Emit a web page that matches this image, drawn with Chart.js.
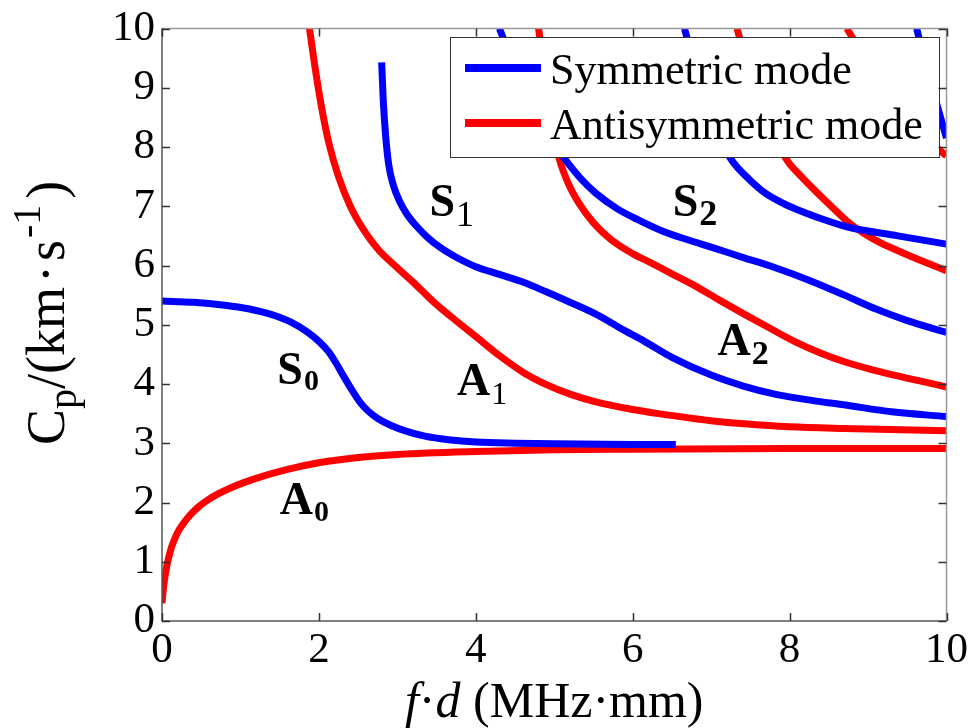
<!DOCTYPE html>
<html>
<head>
<meta charset="utf-8">
<script src="https://cdn.jsdelivr.net/npm/chart.js@4.4.1/dist/chart.umd.min.js"></script>
<style>
  html, body { margin: 0; padding: 0; background: #fff; }
  #wrap { width: 976px; height: 728px; }
</style>
</head>
<body>
<div id="wrap"><canvas id="dispersion"></canvas></div>
<script>
// phase velocity dispersion curves: [f·d (MHz·mm), Cp (km/s)]
const S0 = [[0, 5.4], [0.4, 5.38], [0.8, 5.33], [1.1, 5.27], [1.4, 5.17], [1.65, 5.04], [1.85, 4.88],
  [2.0, 4.72], [2.12, 4.55], [2.22, 4.35], [2.32, 4.12], [2.42, 3.9], [2.52, 3.7], [2.63, 3.54],
  [2.76, 3.41], [2.92, 3.3], [3.1, 3.21], [3.35, 3.12], [3.65, 3.06], [4.0, 3.02], [4.5, 3.0],
  [5.0, 2.99], [6.0, 2.98], [6.55, 2.98]];
const S1 = [[2.8, 9.43], [2.82, 8.8], [2.85, 8.2], [2.89, 7.7], [2.95, 7.35], [3.03, 7.08], [3.12, 6.87],
  [3.24, 6.67], [3.38, 6.48], [3.55, 6.3], [3.75, 6.14], [4.0, 5.98], [4.3, 5.85], [4.6, 5.72],
  [4.89, 5.56], [5.2, 5.38], [5.53, 5.18], [5.9, 4.9], [6.15, 4.72], [6.5, 4.45], [7.0, 4.15],
  [7.4, 3.97], [7.84, 3.82], [8.3, 3.72], [8.69, 3.65], [9.3, 3.53], [10, 3.45]];
const S2 = [[4.3, 10], [4.55, 9.2], [4.8, 8.5], [5.0, 8.05], [5.18, 7.72], [5.35, 7.45], [5.53, 7.22],
  [5.8, 6.96], [6.07, 6.77], [6.4, 6.57], [6.71, 6.43], [7.0, 6.31], [7.42, 6.13], [7.8, 5.97],
  [8.27, 5.74], [8.7, 5.5], [9.11, 5.26], [9.5, 5.07], [10, 4.87]];
const S3 = [[6.66, 10], [6.85, 9.1], [7.05, 8.3], [7.26, 7.78], [7.48, 7.46], [7.69, 7.22], [7.9, 7.06],
  [8.1, 6.94], [8.32, 6.83], [8.74, 6.65], [9.38, 6.5], [10, 6.36]];
const S4 = [[9.62, 10], [9.75, 9.3], [9.87, 8.75], [10, 8.15]];

const A0 = [[0, 0.3], [0.01, 0.45], [0.03, 0.68], [0.06, 0.92], [0.1, 1.15], [0.15, 1.35], [0.21, 1.52],
  [0.28, 1.66], [0.36, 1.79], [0.46, 1.92], [0.58, 2.04], [0.72, 2.15], [0.88, 2.25], [1.05, 2.34],
  [1.3, 2.45], [1.6, 2.56], [2.0, 2.67], [2.5, 2.76], [3.0, 2.81], [4.0, 2.86], [5.0, 2.89],
  [6.0, 2.9], [8.0, 2.91], [10, 2.91]];
const A1 = [[1.88, 10], [1.95, 9.35], [2.03, 8.7], [2.13, 8.05], [2.25, 7.5], [2.4, 7.0], [2.57, 6.6],
  [2.75, 6.28], [2.95, 6.02], [3.2, 5.72], [3.45, 5.4], [3.7, 5.12], [4.0, 4.8], [4.3, 4.48],
  [4.6, 4.2], [4.9, 3.99], [5.2, 3.83], [5.53, 3.7], [6.0, 3.57], [6.33, 3.5], [7.0, 3.38],
  [7.42, 3.33], [8.0, 3.28], [8.69, 3.25], [10, 3.21]];
const A2 = [[4.8, 10], [4.88, 9.2], [4.96, 8.45], [5.06, 7.82], [5.18, 7.38], [5.31, 7.06], [5.5, 6.72],
  [5.73, 6.43], [6.0, 6.2], [6.24, 6.04], [6.5, 5.86], [6.79, 5.66], [7.1, 5.42], [7.42, 5.18],
  [7.75, 4.94], [8.06, 4.72], [8.4, 4.52], [8.69, 4.38], [9.0, 4.26], [9.33, 4.15], [9.7, 4.04], [10, 3.95]];
const A3 = [[7.33, 10], [7.5, 9.2], [7.7, 8.5], [7.85, 8.05], [7.98, 7.75], [8.15, 7.5], [8.32, 7.27],
  [8.53, 7.0], [8.74, 6.74], [8.95, 6.54], [9.16, 6.38], [9.38, 6.25], [9.59, 6.13], [10, 5.91]];
const A4 = [[8.73, 10], [9.1, 9.2], [9.5, 8.5], [9.87, 8.0], [10, 7.85]];

const symmetric = [S0, S1, S2, S3, S4];
const antisymmetric = [A0, A1, A2, A3, A4];
const legendNames = ['Symmetric mode', 'Antisymmetric mode'];

const BLUE = '#0000ff';
const RED = '#ff0000';
const SERIF = '"Liberation Serif", "Times New Roman", serif';

// mode names written next to the curves (anchor = left/baseline, in data units)
const modeTags = [
  { main: 'S', sub: '0', x: 1.47, y: 4.0, subSize: 30, subBold: true, drop: 6 },
  { main: 'A', sub: '0', x: 1.5, y: 1.81, subSize: 30, subBold: true, drop: 7 },
  { main: 'S', sub: '1', x: 3.41, y: 6.83, subSize: 36, subBold: false, drop: 10 },
  { main: 'A', sub: '1', x: 3.76, y: 3.82, subSize: 32, subBold: false, drop: 9 },
  { main: 'S', sub: '2', x: 6.51, y: 6.83, subSize: 36, subBold: true, drop: 9 },
  { main: 'A', sub: '2', x: 7.08, y: 4.49, subSize: 34, subBold: true, drop: 9 },
];

const toXY = (pts) => pts.map(([x, y]) => ({ x, y }));
const curve = (pts, color) => ({
  data: toXY(pts),
  borderColor: color,
  borderWidth: 7,
  pointRadius: 0,
  showLine: true,
  fill: false,
  cubicInterpolationMode: 'monotone',
});

const datasets = [
  ...symmetric.map((pts) => curve(pts, BLUE)),
  ...antisymmetric.map((pts) => curve(pts, RED)),
];

const extras = {
  id: 'extras',
  afterDatasetsDraw(chart) {
    const { ctx, scales: { x, y } } = chart;
    ctx.save();
    ctx.fillStyle = '#000';
    ctx.textBaseline = 'alphabetic';
    ctx.textAlign = 'left';

    // mode tags
    modeTags.forEach((t) => {
      const px = x.getPixelForValue(t.x);
      const py = y.getPixelForValue(t.y);
      ctx.font = `bold 46px ${SERIF}`;
      ctx.fillText(t.main, px, py);
      const w = ctx.measureText(t.main).width;
      ctx.font = `${t.subBold ? 'bold ' : ''}${t.subSize}px ${SERIF}`;
      ctx.fillText(t.sub, px + w + 1, py + t.drop);
    });

    // legend box
    const lx = 450, ly = 37, lw = 489, lh = 120;
    ctx.fillStyle = '#fff';
    ctx.fillRect(lx, ly, lw, lh);
    ctx.strokeStyle = '#333';
    ctx.lineWidth = 1;
    ctx.strokeRect(lx + 0.5, ly + 0.5, lw, lh);
    [BLUE, RED].forEach((c, i) => {
      const rowY = 68 + i * 55;
      ctx.strokeStyle = c;
      ctx.lineWidth = 8;
      ctx.beginPath();
      ctx.moveTo(465, rowY);
      ctx.lineTo(541, rowY);
      ctx.stroke();
      ctx.fillStyle = '#000';
      ctx.font = `44px ${SERIF}`;
      ctx.fillText(legendNames[i], 550, rowY + 16);
    });

    // axes frame with inward ticks on all four sides
    const a = chart.chartArea;
    ctx.lineWidth = 1.5;
    ctx.strokeStyle = '#999';
    ctx.beginPath();
    ctx.moveTo(a.left, a.top);
    ctx.lineTo(a.right, a.top);
    ctx.lineTo(a.right, a.bottom);
    ctx.stroke();
    ctx.strokeStyle = '#555';
    ctx.beginPath();
    ctx.moveTo(a.left, a.top);
    ctx.lineTo(a.left, a.bottom);
    ctx.lineTo(a.right, a.bottom);
    ctx.stroke();

    ctx.strokeStyle = '#333';
    ctx.lineWidth = 1.5;
    const tl = 8;
    y.ticks.forEach((tk) => {
      const py = Math.round(y.getPixelForValue(tk.value)) + 0.5;
      ctx.beginPath();
      ctx.moveTo(a.left, py); ctx.lineTo(a.left + tl, py);
      ctx.moveTo(a.right, py); ctx.lineTo(a.right - tl, py);
      ctx.stroke();
    });
    x.ticks.forEach((tk) => {
      const px = Math.round(x.getPixelForValue(tk.value)) + 0.5;
      ctx.beginPath();
      ctx.moveTo(px, a.bottom); ctx.lineTo(px, a.bottom - tl);
      ctx.moveTo(px, a.top); ctx.lineTo(px, a.top + tl);
      ctx.stroke();
    });

    // x axis title: f·d (MHz·mm)
    ctx.fillStyle = '#000';
    const xParts = [
      { s: 'f', it: true }, { s: '·', it: false }, { s: 'd', it: true }, { s: ' (MHz·mm)', it: false },
    ];
    let total = 0;
    xParts.forEach((p) => {
      ctx.font = `${p.it ? 'italic ' : ''}50px ${SERIF}`;
      p.w = ctx.measureText(p.s).width;
      total += p.w;
    });
    let cx = (a.left + a.right) / 2 - total / 2;
    xParts.forEach((p) => {
      ctx.font = `${p.it ? 'italic ' : ''}50px ${SERIF}`;
      ctx.fillText(p.s, cx, 717);
      cx += p.w;
    });

    // y axis title: Cp/(km·s^-1), reading upward
    ctx.translate(64, 445);
    ctx.rotate(-Math.PI / 2);
    const yParts = [
      { s: 'C', size: 54, dy: 0, gap: 0 }, { s: 'p', size: 40, dy: 12, gap: 0 },
      { s: '/(km', size: 54, dy: 0, gap: 4 }, { s: '·', size: 54, dy: 0, gap: 4 },
      { s: 's', size: 54, dy: 0, gap: 2 }, { s: '-1', size: 40, dy: -24, gap: 6 },
      { s: ')', size: 54, dy: 0, gap: 0 },
    ];
    let cy = 0;
    yParts.forEach((p) => {
      ctx.font = `${p.size}px ${SERIF}`;
      ctx.fillText(p.s, cy, p.dy);
      cy += ctx.measureText(p.s).width + p.gap;
    });
    ctx.restore();
  },
};

new Chart(document.getElementById('dispersion'), {
  type: 'scatter',
  data: { datasets },
  options: {
    responsive: true,
    maintainAspectRatio: false,
    animation: false,
    layout: { padding: { top: 24, right: 27, left: 0, bottom: 0 } },
    plugins: { legend: { display: false }, tooltip: { enabled: false } },
    scales: {
      x: {
        type: 'linear',
        min: 0,
        max: 10,
        afterFit(scale) { scale.height = 107; },
        grid: { display: false, drawTicks: false },
        border: { display: false },
        ticks: { stepSize: 2, padding: 8, color: '#000', font: { family: SERIF, size: 43, lineHeight: 1 } },
      },
      y: {
        type: 'linear',
        min: 0,
        max: 10,
        afterFit(scale) { scale.width = 162; },
        grid: { display: false, drawTicks: false },
        border: { display: false },
        ticks: { stepSize: 1, padding: 7, color: '#000', font: { family: SERIF, size: 43, lineHeight: 1 } },
      },
    },
  },
  plugins: [extras],
});
</script>
</body>
</html>
